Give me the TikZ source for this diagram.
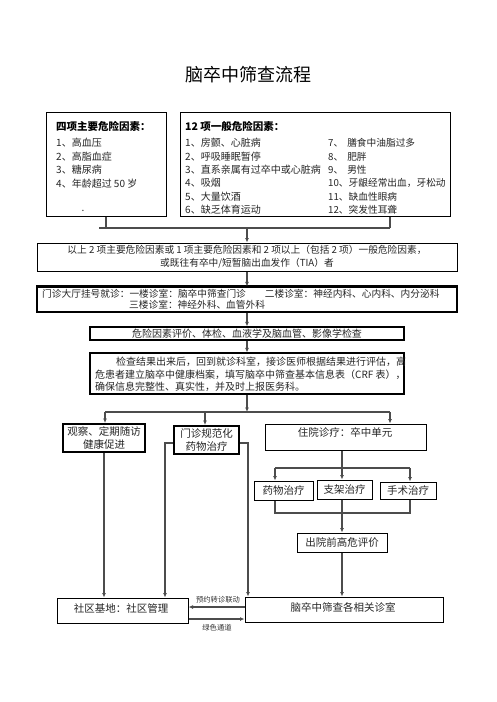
\documentclass[tikz,border=0pt]{standalone}
\usepackage{fontspec}
\setmainfont{Noto Sans CJK SC}
\usetikzlibrary{arrows.meta,calc}
\begin{document}
\begin{tikzpicture}[x=1pt,y=-1pt,
  bx/.style={draw=black, line width=1pt, inner sep=0pt, rectangle},
  tbx/.style={bx, line width=2pt},
  tx/.style={inner sep=0pt, font=\fontsize{10}{12}\selectfont, text=black!85},
  bt/.style={inner sep=0pt, font=\fontsize{10.5}{13}\selectfont, text=black!85, align=center},
  sm/.style={inner sep=0pt, font=\fontsize{7.3}{9}\selectfont, text=black!80},
  con/.style={draw=black!70, line width=1.1pt},
  arr/.style={con, -{Latex[length=4.5pt,width=4pt]}}]
\useasboundingbox[fill=white] (0,0) rectangle (496,702);

\node[inner sep=0pt, font=\fontsize{18}{20}\selectfont] (title) at (248,75) {脑卒中筛查流程};

% risk factor boxes
\node[bx, minimum width=120pt, minimum height=104pt] (b1) at (106,164) {};
\node[bx, minimum width=270pt, minimum height=104pt] (b2) at (315,164) {};
\node[inner sep=0pt, anchor=west, font=\bfseries\fontsize{10.5}{12}\selectfont] (h1) at (56,126) {四项主要危险因素：};
\node[inner sep=0pt, anchor=west, font=\bfseries\fontsize{10.5}{12}\selectfont] (h2) at (185,126) {12 项一般危险因素：};
\foreach \t [count=\i] in {1、高血压, 2、高脂血症, 3、糖尿病, 4、年龄超过 50 岁}
  {\node[tx, anchor=west] (r\i) at (56,{143+13.4*(\i-1)}) {\t};}
\foreach \t [count=\i] in {1、房颤、心脏病, 2、呼吸睡眠暂停, 3、直系亲属有过卒中或心脏病, 4、吸烟, 5、大量饮酒, 6、缺乏体育运动}
  {\node[tx, anchor=west] (s\i) at (185,{143+13.4*(\i-1)}) {\t};}
\foreach \t [count=\i] in {7、\hspace{4pt}膳食中油脂过多, 8、\hspace{4pt}肥胖, 9、\hspace{4pt}男性, 10、牙龈经常出血，牙松动, 11、缺血性眼病, 12、突发性耳聋}
  {\node[tx, anchor=west, font=\fontsize{9.7}{12}\selectfont] (t\i) at (328,{143+13.4*(\i-1)}) {\t};}
\node[tx] (dot) at (83,211) {.};

\coordinate (j0) at (99,228);
\coordinate (j1) at (247,228);
\coordinate (j2) at (390,228);
\draw[con] (b1.south) -- (b1.south |- j0);
\draw[con] (b2.south -| j2) -- (j2);
\draw[con] (j0) -- (j2);

\node[bx, minimum width=420pt, minimum height=28pt, align=center, font=\fontsize{9.7}{13}\selectfont, text=black!85] (b3) at (247,257)
  {以上 2 项主要危险因素或 1 项主要危险因素和 2 项以上（包括 2 项）一般危险因素，\\或既往有卒中/短暂脑出血发作（TIA）者};
\draw[arr] (j1) -- (b3.north);

\node[bx, line width=1.2pt, minimum width=420pt, minimum height=25pt] (b4) at (247,299.5) {};
\draw[line width=2pt] (b4.north west) -- (b4.north east);
\node[tx, anchor=west, font=\fontsize{9.7}{12}\selectfont] (b4a) at (42,293.5) {门诊大厅挂号就诊：一楼诊室：脑卒中筛查门诊\hspace{19pt}二楼诊室：神经内科、心内科、内分泌科};
\node[tx, anchor=west, font=\fontsize{9.7}{12}\selectfont] (b4b) at (129,305) {三楼诊室：神经外科、血管外科};
\draw[arr] (b3.south) -- (b4.north);

\node[bx, line width=1.2pt, minimum width=314pt, minimum height=13pt, font=\fontsize{10}{12}\selectfont, text=black!85] (b5) at (247,333.5) {危险因素评价、体检、血液学及脑血管、影像学检查};
\draw[arr] (b4.south) -- (b5.north);

\node[bx, line width=1.2pt, minimum width=314pt, minimum height=41pt] (b6) at (247,373.5) {};
\node[tx, anchor=west] (b6a) at (116,362) {检查结果出来后，回到就诊科室，接诊医师根据结果进行评估，高};
\node[tx, anchor=west] (b6b) at (95,374.5) {危患者建立脑卒中健康档案，填写脑卒中筛查基本信息表（CRF 表），};
\node[tx, anchor=west] (b6c) at (95,387) {确保信息完整性、真实性，并及时上报医务科。};
\draw[arr] (b5.south) -- (b6.north);

% three branches
\coordinate (j3) at (247,412);
\coordinate (jA) at (105,412);
\coordinate (jB) at (205,412);
\coordinate (jC) at (390,412);
\draw[arr] (b6.south) -- (j3);
\draw[con] (jA) -- (jC);

\node[tbx, minimum width=82pt, minimum height=28pt, bt] (bA) at (104,438) {观察、定期随访\\健康促进};
\node[tbx, minimum width=65pt, minimum height=28pt, bt] (bB) at (206.5,440) {门诊规范化\\药物治疗};
\node[bx, minimum width=161pt, minimum height=26pt] (bC) at (345.5,437) {};
\node[bt] (bCt) at (345,432) {住院诊疗：卒中单元};
\draw[arr] (jA) -- (jA |- bA.north);
\draw[arr] (jB) -- (jB |- bB.north);
\draw[arr] (jC) -- (jC |- bC.north);

% inpatient branch
\coordinate (kC) at (342,468);
\coordinate (k1) at (275,468);
\coordinate (k3) at (410,468);
\draw[con] (bC.south -| kC) -- (kC);
\draw[con] (k1) -- (k3);
\node[bx, minimum width=59pt, minimum height=19pt, bt] (d1) at (283.5,490.5) {药物治疗};
\node[bx, minimum width=55pt, minimum height=19pt, bt] (d2) at (344.5,489.5) {支架治疗};
\node[bx, minimum width=56pt, minimum height=17pt, bt] (d3) at (408,490.5) {手术治疗};
\draw[arr] (k1) -- (k1 |- d1.north);
\draw[arr] (kC) -- (kC |- d2.north);
\draw[arr] (k3) -- (k3 |- d3.north);

\coordinate (m1) at (275,513);
\coordinate (m3) at (410,513);
\draw[con] (d1.south -| m1) -- (m1) -- (m3) -- (d3.south -| m3);

\node[bx, minimum width=90pt, minimum height=19pt, bt] (e) at (342,542.5) {出院前高危评价};
\draw[arr] (kC |- d2.south) -- (kC |- e.north);

% bottom boxes
\node[bx, minimum width=131pt, minimum height=25pt] (f) at (122.5,610.5) {};
\node[bt] (ft) at (121,608) {社区基地：社区管理};
\node[bx, minimum width=198pt, minimum height=25pt] (g) at (344,609.5) {};
\node[bt] (gt) at (343,607) {脑卒中筛查各相关诊室};
\draw[arr] (e.south) -- (e.south |- g.north);

\draw[arr] (bA.south) -- (bA.south |- f.north);
\coordinate (qB) at (165,443);
\coordinate (rB) at (248,443);
\draw[arr] (bB.west |- qB) -- (qB) -- (qB |- f.north);
\draw[arr] (bB.east |- rB) -- (rB) -- (rB |- g.north);

\coordinate (s1) at (0,607);
\coordinate (s2) at (0,619);
\draw[arr] (g.west |- s1) -- (f.east |- s1);
\draw[arr] (f.east |- s2) -- (g.west |- s2);
\node[sm] (l1) at (218,600) {预约转诊联动};
\node[sm] (l2) at (217,627.5) {绿色通道};
\end{tikzpicture}
\end{document}
